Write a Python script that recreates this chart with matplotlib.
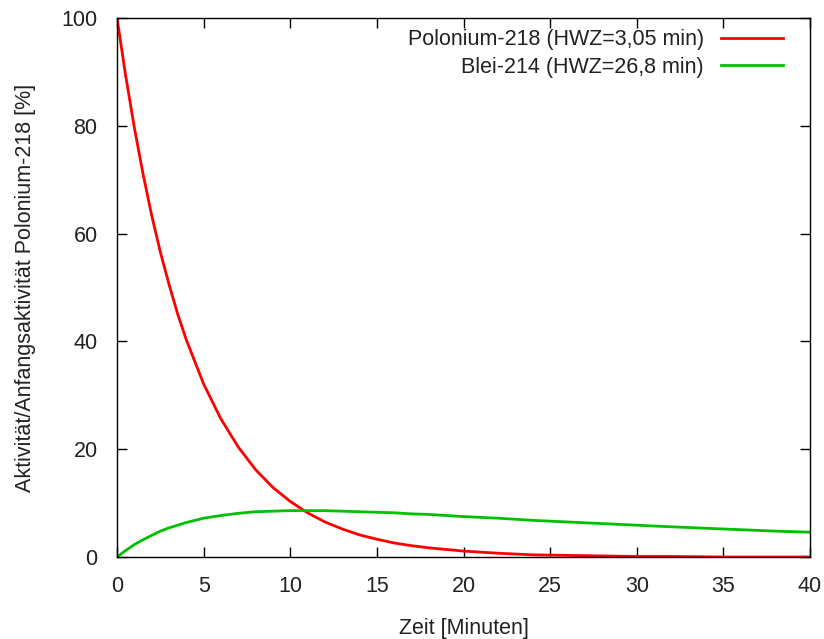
import matplotlib
matplotlib.use("Agg")
import matplotlib.pyplot as plt

plt.rcParams['font.family'] = ['Liberation Sans', 'DejaVu Sans']

# Zeit in Minuten
zeit = [0, 0.5, 1, 1.5, 2, 2.5, 3, 3.5, 4, 5, 6, 7, 8, 9, 10, 11, 12, 13, 14, 15,
        16, 17, 18, 20, 22, 24, 26, 28, 30, 32, 35, 38, 40]
# Polonium-218 in % der Anfangsaktivitaet
polonium = [100, 89.3, 79.7, 71.1, 63.4, 56.6, 50.6, 45.1, 40.3, 32.1, 25.6, 20.4,
            16.2, 12.9, 10.3, 8.2, 6.5, 5.2, 4.1, 3.3, 2.6, 2.1, 1.7, 1.1, 0.7,
            0.4, 0.3, 0.2, 0.1, 0.1, 0.0, 0.0, 0.0]
# Blei-214
blei = [0, 1.2, 2.3, 3.2, 4.0, 4.8, 5.4, 5.9, 6.4, 7.2, 7.7, 8.1, 8.4, 8.5, 8.6,
        8.6, 8.6, 8.5, 8.4, 8.3, 8.2, 8.0, 7.9, 7.5, 7.2, 6.8, 6.5, 6.2, 5.9,
        5.6, 5.2, 4.8, 4.6]

fs = 15.5

fig = plt.figure(figsize=(8.24, 6.39), dpi=100)
ax = fig.add_axes([117/824, 1-557/639, (810-117)/824, (557-18)/639])

ax.plot(zeit, polonium, color='#ff0000', lw=2, label='Polonium-218 (HWZ=3,05 min)')
ax.plot(zeit, blei, color='#00c000', lw=2, label='Blei-214 (HWZ=26,8 min)')

ax.set_xlim(0, 40)
ax.set_ylim(0, 100)
ax.set_xticks(range(0, 41, 5))
ax.set_yticks(range(0, 101, 20))
ax.tick_params(direction='in', top=True, right=True, length=7, width=1,
               labelsize=fs, pad=14, labelcolor='#222222')
for s in ax.spines.values():
    s.set_linewidth(1)

ax.set_xlabel('Zeit [Minuten]', fontsize=fs, labelpad=15, color='#222222')
ax.set_ylabel('Aktivität/Anfangsaktivität Polonium-218 [%]', fontsize=fs,
              labelpad=18, color='#222222')

leg = ax.legend(loc='upper right', bbox_to_anchor=(0.973, 0.995), frameon=False,
                markerfirst=False, fontsize=fs, handlelength=2.85, handletextpad=0.8,
                borderaxespad=0, labelspacing=0.3)
for t in leg.get_texts():
    t.set_color('#222222')

fig.savefig('out.png', dpi=100)
